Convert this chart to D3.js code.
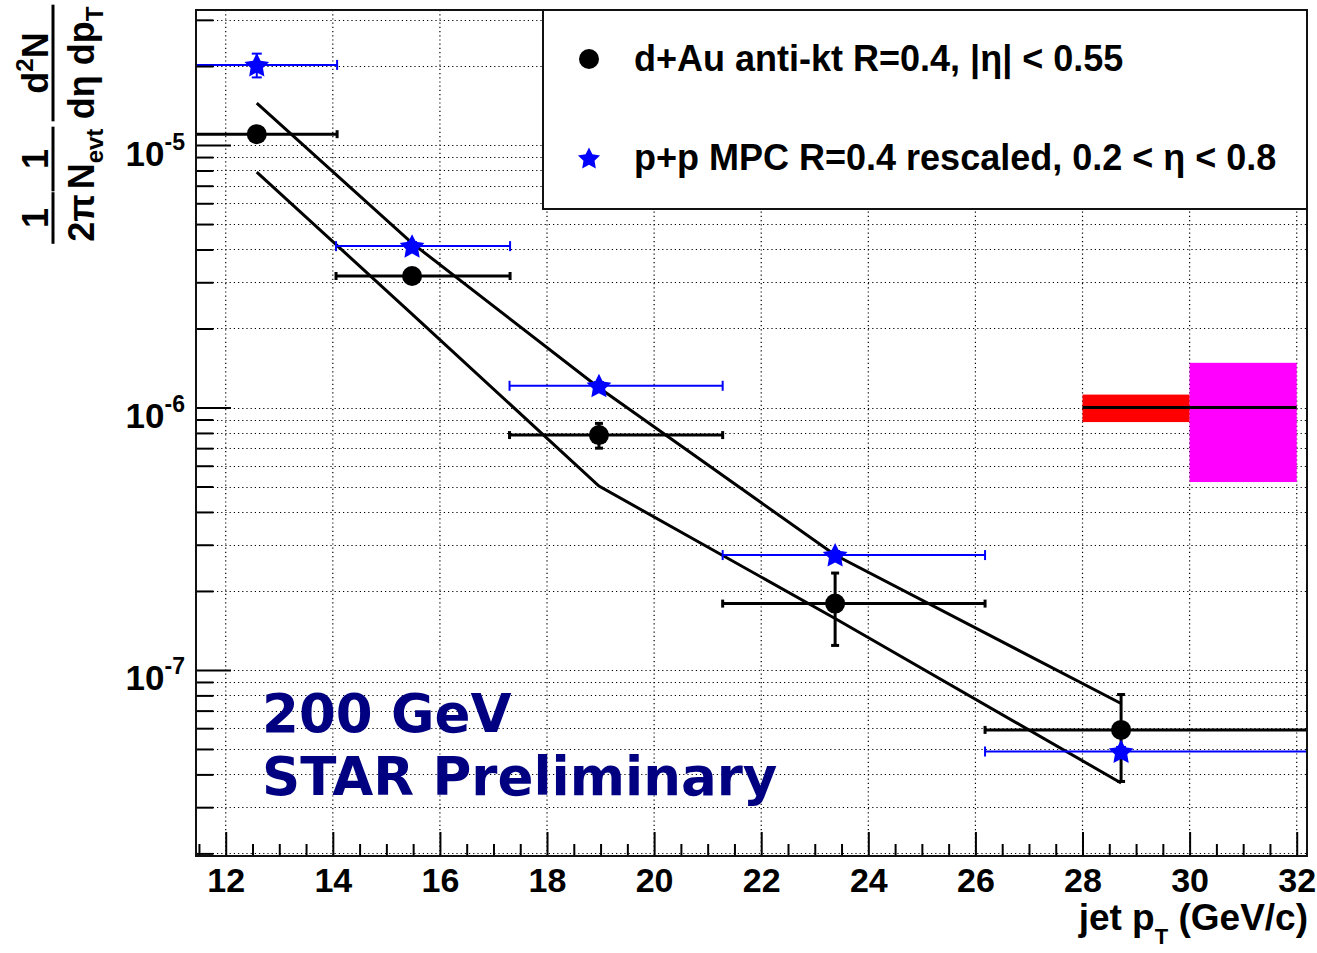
<!DOCTYPE html>
<html>
<head>
<meta charset="utf-8">
<script src="https://cdn.jsdelivr.net/npm/d3@7"></script>
<style>
  body { margin: 0; background: #fff; }
  svg { display: block; }
  text { font-family: "Liberation Sans", Arial, Helvetica, sans-serif; font-weight: bold; }
</style>
</head>
<body>
<svg width="1317" height="953"></svg>
<script>
// bins of jet pT (GeV/c)
const ptCenter = [12.58, 15.48, 18.97, 23.38, 28.72];
const binLo = [11.1, 14.06, 17.3, 21.28, 26.18];
const binHi = [14.08, 17.31, 21.28, 26.18, 33.0];

// d+Au anti-kt R=0.4
const dAuYield = [1.10e-5, 3.17e-6, 7.85e-7, 1.79e-7, 5.91e-8];
const dAuErr = [0.06e-5, 0.12e-6, 0.085e-6, 0.55e-7, 2.15e-8];

// p+p MPC rescaled
const ppYield = [2.02e-5, 4.12e-6, 1.21e-6, 2.74e-7, 4.89e-8];
const ppErr = [0.21e-5, 0.15e-6, 0.04e-6, 0.1e-7, 0.2e-8];

// the two black curves
const upperCurve = [1.445e-5, 4.23e-6, 1.19e-6, 2.74e-7, 7.45e-8];
const lowerCurve = [7.89e-6, 2.27e-6, 5.02e-7, 1.57e-7, 3.71e-8];

// normalisation boxes at the right
const normXLo = [28, 30];
const normXHi = [30, 32];
const normLo = [0.88e-6, 0.52e-6];
const normHi = [1.12e-6, 1.48e-6];
const normColor = ["#ff0000", "#ff00ff"];
const normRef = 1e-6;

// ticks
const xTicks = [12, 14, 16, 18, 20, 22, 24, 26, 28, 30, 32];
const yDecades = [1e-7, 1e-6, 1e-5];
const yDecadeExp = ["-7", "-6", "-5"];

const legendLabels = ["d+Au anti-kt R=0.4, |\u03b7| < 0.55", "p+p MPC R=0.4 rescaled, 0.2 < \u03b7 < 0.8"];

// fat five-point star, close to the ROOT marker
const fatStar = {
    draw(context, size) {
        const r = Math.sqrt(size) * 0.75, ri = r * 0.5;
        for (let k = 0; k < 10; k++) {
            const a = -Math.PI / 2 + k * Math.PI / 5;
            const rr = k % 2 ? ri : r;
            if (k === 0) context.moveTo(rr * Math.cos(a), rr * Math.sin(a));
            else context.lineTo(rr * Math.cos(a), rr * Math.sin(a));
        }
        context.closePath();
    }
};

function drawPlot() {
    const svg = d3.select("svg");
    const frame = { left: 196, right: 1307, top: 10, bottom: 856 };

    const x = d3.scaleLinear().domain([11.445, 32.192]).range([frame.left, frame.right]);
    const y = d3.scaleLog().domain([1.955e-8, 3.27e-5]).range([frame.bottom, frame.top]);

    // minor tick positions
    const xMinor = [];
    for (let v = 11.5; v <= 32.01; v += 0.5) if (v % 2 !== 0) xMinor.push(v);
    const yMinor = [];
    const yGrid = [];
    for (let e = -8; e <= -5; e++) {
        for (let k = 1; k <= 9; k++) {
            const v = k * Math.pow(10, e);
            if (v >= y.domain()[0] && v <= y.domain()[1]) {
                yGrid.push(v);
                if (k !== 1) yMinor.push(v);
            }
        }
    }

    svg.append("defs").append("clipPath").attr("id", "plotclip")
        .append("rect")
        .attr("x", frame.left).attr("y", frame.top)
        .attr("width", frame.right - frame.left).attr("height", frame.bottom - frame.top);

    // grid
    const grid = svg.append("g").attr("class", "grid")
        .style("stroke", "#000").style("stroke-width", 1.2).style("stroke-dasharray", "1.2,3");
    grid.selectAll(".gx").data(xTicks).enter().append("line")
        .attr("x1", d => x(d)).attr("x2", d => x(d))
        .attr("y1", frame.top).attr("y2", frame.bottom);
    grid.selectAll(".gy").data(yGrid).enter().append("line")
        .attr("x1", frame.left).attr("x2", frame.right)
        .attr("y1", d => Math.round(y(d)) + 0.5).attr("y2", d => Math.round(y(d)) + 0.5);

    const plot = svg.append("g").attr("clip-path", "url(#plotclip)");

    // normalisation boxes
    plot.selectAll(".norm").data(normXLo).enter().append("rect")
        .attr("x", (d, i) => x(d))
        .attr("width", (d, i) => x(normXHi[i]) - x(d))
        .attr("y", (d, i) => y(normHi[i]))
        .attr("height", (d, i) => y(normLo[i]) - y(normHi[i]))
        .style("fill", (d, i) => normColor[i]);
    plot.append("line")
        .attr("x1", x(normXLo[0])).attr("x2", x(normXHi[1]))
        .attr("y1", y(normRef)).attr("y2", y(normRef))
        .style("stroke", "#000").style("stroke-width", 3);

    // curves
    const line = d3.line().x(d => x(d[0])).y(d => y(d[1]));
    [upperCurve, lowerCurve].forEach(c => {
        plot.append("path")
            .attr("d", line(ptCenter.map((p, i) => [p, c[i]])))
            .style("fill", "none").style("stroke", "#000").style("stroke-width", 3);
    });

    // error bars
    function errorBars(vals, errs, color, width, capStyle) {
        const g = plot.append("g").style("stroke", color).style("stroke-width", width);
        ptCenter.forEach((p, i) => {
            const cy = y(vals[i]);
            g.append("line").attr("x1", x(binLo[i])).attr("x2", x(binHi[i])).attr("y1", cy).attr("y2", cy);
            g.append("line").attr("x1", x(p)).attr("x2", x(p)).attr("y1", y(vals[i] + errs[i])).attr("y2", y(vals[i] - errs[i]));
            [binLo[i], binHi[i]].forEach(b => {
                g.append("line").attr("x1", x(b)).attr("x2", x(b))
                    .attr("y1", cy - capStyle.h).attr("y2", cy + capStyle.h);
            });
            [vals[i] + errs[i], vals[i] - errs[i]].forEach(v => {
                g.append("line").attr("x1", x(p) - capStyle.h).attr("x2", x(p) + capStyle.h)
                    .attr("y1", y(v)).attr("y2", y(v));
            });
        });
    }
    errorBars(ppYield, ppErr, "#0000ff", 2, { h: 5 });
    errorBars(dAuYield, dAuErr, "#000", 3, { h: 4 });

    // markers
    const star = d3.symbol(fatStar, 300);
    plot.selectAll(".pp").data(ptCenter).enter().append("path")
        .attr("d", star)
        .attr("transform", (d, i) => `translate(${x(d)},${y(ppYield[i]) + 1})`)
        .style("fill", "#0000ff");
    plot.selectAll(".dau").data(ptCenter).enter().append("circle")
        .attr("cx", d => x(d)).attr("cy", (d, i) => y(dAuYield[i]))
        .attr("r", 10).style("fill", "#000");

    // axes
    const xAxis = svg.append("g").attr("transform", `translate(0,${frame.bottom})`)
        .call(d3.axisBottom(x).tickValues(xTicks).tickSizeInner(-24).tickSizeOuter(0).tickPadding(12).tickFormat(d3.format("d")));
    xAxis.select(".domain").remove();
    xAxis.selectAll("line").style("stroke", "#000").style("stroke-width", 2);
    xAxis.selectAll("text").style("font-size", "34px").style("fill", "#000");
    const xMinorAxis = svg.append("g").attr("transform", `translate(0,${frame.bottom})`)
        .call(d3.axisBottom(x).tickValues(xMinor).tickSizeInner(-12).tickSizeOuter(0).tickFormat(""));
    xMinorAxis.select(".domain").remove();
    xMinorAxis.selectAll("line").style("stroke", "#000").style("stroke-width", 2);

    const yAxis = svg.append("g").attr("transform", `translate(${frame.left},0)`)
        .call(d3.axisLeft(y).tickValues(yDecades).tickSizeInner(-35).tickSizeOuter(0).tickPadding(11));
    yAxis.select(".domain").remove();
    yAxis.selectAll("line").style("stroke", "#000").style("stroke-width", 2);
    yAxis.selectAll("text").each(function(d, i) {
        const t = d3.select(this).text("").attr("dy", 20).style("font-size", "35px").style("fill", "#000");
        t.append("tspan").text("10");
        t.append("tspan").attr("dy", -16).style("font-size", "23px").text(yDecadeExp[i]);
    });
    const yMinorAxis = svg.append("g").attr("transform", `translate(${frame.left},0)`)
        .call(d3.axisLeft(y).tickValues(yMinor).tickSizeInner(-17.5).tickSizeOuter(0).tickFormat(""));
    yMinorAxis.select(".domain").remove();
    yMinorAxis.selectAll("line").style("stroke", "#000").style("stroke-width", 2);

    // frame
    svg.append("rect")
        .attr("x", frame.left).attr("y", frame.top)
        .attr("width", frame.right - frame.left).attr("height", frame.bottom - frame.top)
        .style("fill", "none").style("stroke", "#111").style("stroke-width", 2);

    // legend
    const legend = svg.append("g").attr("class", "legend");
    legend.append("rect")
        .attr("x", 543).attr("y", frame.top).attr("width", frame.right - 543).attr("height", 199)
        .style("fill", "#fff").style("stroke", "#111").style("stroke-width", 2);
    legend.append("circle").attr("cx", 589).attr("cy", 59).attr("r", 10).style("fill", "#000");
    legend.append("path").attr("d", d3.symbol(fatStar, 240)).attr("transform", "translate(589,159)").style("fill", "#0000ff");
    legendLabels.forEach((lab, i) => {
        legend.append("text")
            .attr("x", 634).attr("y", i === 0 ? 71 : 170)
            .style("font-size", "36px").style("fill", "#000")
            .text(lab);
    });

    // x axis title
    const xt = svg.append("text")
        .attr("x", 1308).attr("y", 930)
        .attr("text-anchor", "end")
        .style("font-size", "37px").style("fill", "#000");
    xt.append("tspan").text("jet p");
    xt.append("tspan").attr("dy", 14).style("font-size", "22px").text("T");
    xt.append("tspan").attr("dy", -14).text(" (GeV/c)");

    // y axis title, built as three stacked fractions
    const yt = svg.append("g").attr("transform", "translate(53,243) rotate(-90)");
    const fracs = [
        { u: 25, num: [["1"]], den: [["2\u03c0"]] },
        { u: 84, num: [["1"]], den: [["N"], ["evt", "sub"]] },
        { u: 180, num: [["d"], ["2", "sup"], ["N"]], den: [["d\u03b7 dp"], ["T", "sub"]] }
    ];
    fracs.forEach(f => {
        const parts = [[f.num, -5], [f.den, 41]];
        let w = 0;
        parts.forEach(([pieces, v]) => {
            const t = yt.append("text").attr("x", f.u).attr("y", v)
                .attr("text-anchor", "middle")
                .style("font-size", "36px").style("fill", "#000");
            let shift = 0;
            pieces.forEach(([s, kind]) => {
                const ts = t.append("tspan").text(s);
                if (kind === "sub") { ts.attr("dy", 9 - shift).style("font-size", "24px"); shift = 9; }
                else if (kind === "sup") { ts.attr("dy", -15 - shift).style("font-size", "24px"); shift = -15; }
                else if (shift !== 0) { ts.attr("dy", -shift); shift = 0; }
            });
            w = Math.max(w, t.node().getComputedTextLength());
        });
        yt.append("line")
            .attr("x1", f.u - w / 2 - 2).attr("x2", f.u + w / 2 + 2)
            .attr("y1", 0).attr("y2", 0)
            .style("stroke", "#000").style("stroke-width", 3);
    });

    // labels
    const lbl = svg.append("text")
        .attr("x", 262).attr("y", 732)
        .style("font-family", "'DejaVu Sans', sans-serif")
        .style("font-size", "53px").style("fill", "#000080");
    lbl.append("tspan").attr("x", 262).attr("y", 732).text("200 GeV");
    lbl.append("tspan").attr("x", 262).attr("y", 795).text("STAR Preliminary");
}

drawPlot();
</script>
</body>
</html>
